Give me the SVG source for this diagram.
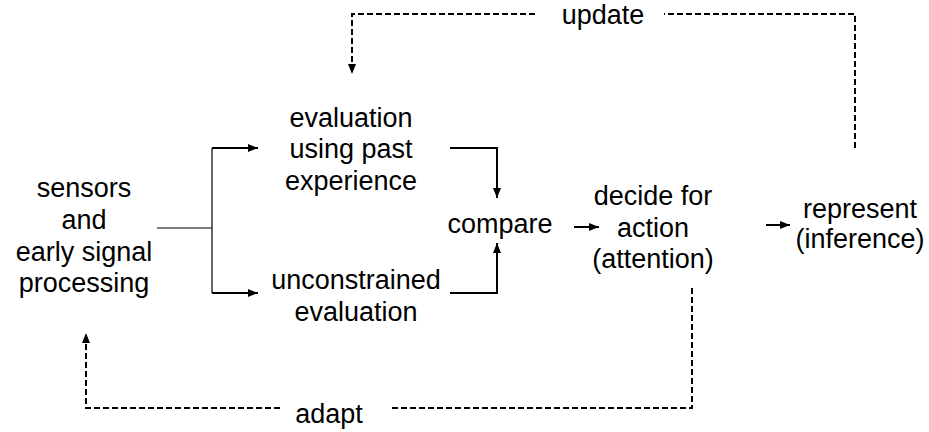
<svg xmlns="http://www.w3.org/2000/svg" width="929" height="432" viewBox="0 0 929 432">
<defs>
<marker id="ah" markerWidth="10" markerHeight="8" refX="10" refY="4" orient="auto" markerUnits="userSpaceOnUse">
<path d="M0,0 L10,4 L0,8 z" fill="#000"/>
</marker>
</defs>
<style>
text { font-family: "Liberation Sans", Arial, sans-serif; font-size: 27px; fill: #000; text-anchor: middle; }
.s { fill: none; stroke: #000; stroke-width: 2; }
.t { fill: none; stroke: #000; stroke-width: 1.2; }
.d { fill: none; stroke: #000; stroke-width: 2; stroke-dasharray: 6 3; }
</style>
<rect width="929" height="432" fill="#fff"/>
<g id="connectors">
<path class="t" d="M157,228 H212"/>
<path class="t" d="M212,148 V293"/>
<path class="s" d="M212,148 H258" marker-end="url(#ah)"/>
<path class="s" d="M212,293 H258" marker-end="url(#ah)"/>
<path class="s" d="M450,148 H497 V198" marker-end="url(#ah)"/>
<path class="s" d="M450,293 H497 V243" marker-end="url(#ah)"/>
<path class="s" d="M574,227 H599" marker-end="url(#ah)"/>
<path class="s" d="M766,225 H790" marker-end="url(#ah)"/>
<path class="d" d="M855,148 V14 H664"/>
<path class="d" d="M535,14 H352 V74" marker-end="url(#ah)"/>
<path class="d" d="M692,288 V408 H390"/>
<path class="d" d="M280,408 H86 V333" marker-end="url(#ah)"/>
</g>
<g id="sensors">
<text x="84" y="197">sensors</text>
<text x="84" y="229">and</text>
<text x="84" y="261">early signal</text>
<text x="84" y="292">processing</text>
</g>
<g id="evaluation-past">
<text x="351" y="127">evaluation</text>
<text x="351" y="158">using past</text>
<text x="351" y="190">experience</text>
</g>
<g id="unconstrained">
<text x="356" y="289">unconstrained</text>
<text x="356" y="321">evaluation</text>
</g>
<g id="compare">
<text x="500" y="233">compare</text>
</g>
<g id="decide">
<text x="653" y="205">decide for</text>
<text x="653" y="237">action</text>
<text x="653" y="268">(attention)</text>
</g>
<g id="represent">
<text x="860" y="218">represent</text>
<text x="860" y="248">(inference)</text>
</g>
<g id="update-label">
<text x="603" y="24">update</text>
</g>
<g id="adapt-label">
<text x="329" y="423">adapt</text>
</g>
</svg>
